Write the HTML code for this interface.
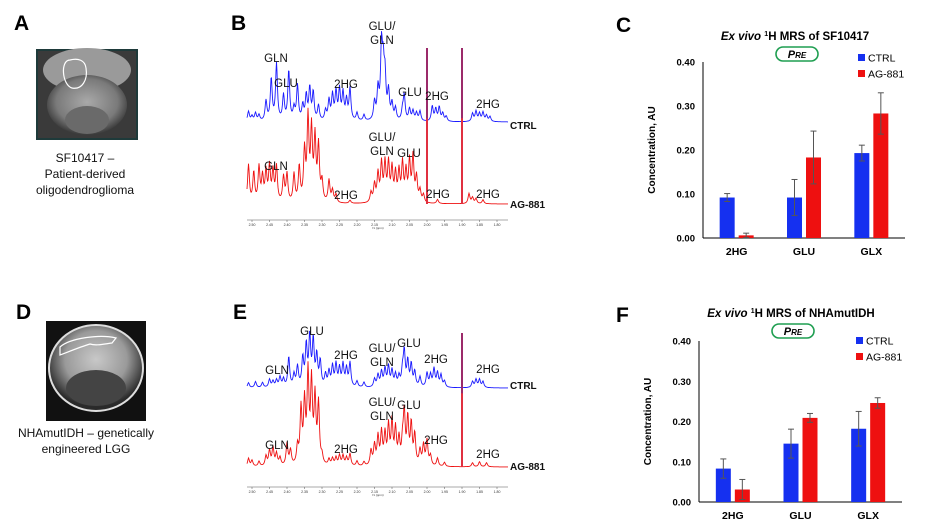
<!DOCTYPE html>
<html><head><meta charset="utf-8"><style>
body{margin:0;background:#fff;}
svg{display:block;font-family:"Liberation Sans",sans-serif;}
</style></head><body>
<svg id="fig" width="926" height="527" viewBox="0 0 926 527">
<g font-weight="bold" font-size="21">
<text x="14" y="30">A</text>
<text x="231" y="30">B</text>
<text x="616" y="32">C</text>
<text x="16" y="319">D</text>
<text x="233" y="319">E</text>
<text x="616" y="322">F</text>
</g>
<defs>
<radialGradient id="brainA" cx="50%" cy="45%" r="55%"><stop offset="0" stop-color="#a9a9a9"/><stop offset="0.7" stop-color="#7a7a7a"/><stop offset="1" stop-color="#3a3a3a"/></radialGradient>
<radialGradient id="brainD" cx="50%" cy="40%" r="55%"><stop offset="0" stop-color="#c8c8c8"/><stop offset="0.6" stop-color="#9a9a9a"/><stop offset="1" stop-color="#2a2a2a"/></radialGradient>
</defs>
<g>
<rect x="36" y="49" width="102" height="91" fill="#1e3a3a"/>
<rect x="38" y="51" width="98" height="87" fill="#3a3a3a"/>
<ellipse cx="87" cy="70" rx="44" ry="22" fill="#9a9a9a"/>
<ellipse cx="87" cy="105" rx="40" ry="30" fill="url(#brainA)"/>
<ellipse cx="87" cy="120" rx="22" ry="14" fill="#6a6a6a"/>
<path d="M70 60 C60 60,62 85,72 88 C82 90,88 80,86 68 C85 60,78 58,70 60Z" fill="none" stroke="#fff" stroke-width="1.2"/>
</g>
<g font-size="12" text-anchor="middle" fill="#111">
<text x="85" y="162">SF10417 –</text><text x="85" y="178">Patient-derived</text><text x="85" y="194">oligodendroglioma</text>
</g>
<g>
<rect x="46" y="321" width="100" height="100" fill="#111"/>
<ellipse cx="96" cy="368" rx="47" ry="43" fill="url(#brainD)" stroke="#ddd" stroke-width="2"/>
<ellipse cx="96" cy="388" rx="30" ry="18" fill="#444"/>
<path d="M60 347 C70 338,100 334,116 338 L112 343 C104 344,96 346,90 344 C80 347,68 352,60 355Z" fill="none" stroke="#fff" stroke-width="1.2"/>
</g>
<g font-size="12" text-anchor="middle" fill="#111">
<text x="86" y="437">NHAmutIDH – genetically</text><text x="86" y="453">engineered  LGG</text>
</g>
<g id="spectra"></g>
<g id="charts"></g>
</svg>
<script>
const specB_ctrl = [[2.51,10],[2.50,5],[2.49,8],[2.48,6],[2.46,20],[2.445,42],[2.43,57],[2.41,25],[2.395,50],[2.38,12],[2.37,35],[2.355,15],[2.345,25],[2.335,32],[2.325,28],[2.31,15],[2.29,10],[2.28,20],[2.27,25],[2.26,28],[2.25,30],[2.24,27],[2.23,20],[2.22,32],[2.20,8],[2.18,6],[2.15,18],[2.14,30],[2.13,70],[2.125,45],[2.12,40],[2.11,28],[2.10,16],[2.09,12],[2.07,10],[2.065,25],[2.05,12],[2.04,10],[2.03,8],[2.02,10],[1.985,15],[1.975,12],[1.965,14],[1.955,8],[1.945,5],[1.87,8],[1.86,10],[1.85,8],[1.84,9],[1.83,6],[1.82,5]];
const specB_ag = [[2.51,38],[2.495,30],[2.48,35],[2.47,25],[2.46,30],[2.45,35],[2.44,30],[2.43,35],[2.41,25],[2.40,28],[2.38,28],[2.365,35],[2.35,50],[2.34,82],[2.33,70],[2.32,62],[2.31,55],[2.30,20],[2.28,22],[2.27,12],[2.26,8],[2.22,3],[2.16,10],[2.15,18],[2.14,28],[2.13,38],[2.12,38],[2.11,38],[2.10,33],[2.09,28],[2.08,30],[2.07,38],[2.06,30],[2.05,40],[2.04,45],[2.03,25],[2.02,12],[2.01,8],[1.97,4],[1.88,10],[1.87,6],[1.86,5],[1.84,4]];
const specE_ctrl = [[2.51,5],[2.49,6],[2.47,5],[2.45,8],[2.44,6],[2.43,7],[2.42,10],[2.41,8],[2.395,30],[2.38,12],[2.37,20],[2.355,28],[2.345,40],[2.335,49],[2.325,45],[2.315,30],[2.305,25],[2.29,12],[2.28,15],[2.27,20],[2.26,22],[2.25,18],[2.24,22],[2.23,18],[2.22,24],[2.20,6],[2.18,5],[2.15,8],[2.14,12],[2.13,15],[2.12,18],[2.11,20],[2.10,16],[2.09,12],[2.08,10],[2.07,15],[2.065,34],[2.055,25],[2.045,22],[2.035,15],[2.02,10],[2.00,14],[1.99,12],[1.98,18],[1.97,14],[1.96,12],[1.95,6],[1.87,6],[1.86,8],[1.85,8],[1.84,6]];
const specE_ag = [[2.51,8],[2.50,6],[2.48,5],[2.46,10],[2.45,15],[2.44,18],[2.43,12],[2.42,8],[2.40,22],[2.39,15],[2.37,18],[2.36,55],[2.35,60],[2.34,89],[2.33,80],[2.32,65],[2.31,60],[2.30,8],[2.28,6],[2.27,7],[2.26,8],[2.25,10],[2.24,10],[2.23,8],[2.22,12],[2.20,5],[2.18,4],[2.16,15],[2.15,20],[2.14,28],[2.13,32],[2.12,30],[2.11,38],[2.10,42],[2.09,35],[2.08,25],[2.07,20],[2.065,50],[2.055,45],[2.045,40],[2.035,30],[2.02,15],[2.01,20],[2.00,25],[1.99,10],[1.97,8],[1.95,4],[1.87,4],[1.85,5],[1.83,4]];
const specTicks = ["2.50","2.45","2.40","2.35","2.30","2.25","2.20","2.15","2.10","2.05","2.00","1.95","1.90","1.85","1.80"];
const spikesB = [2.00,1.90];
const spikesE = [1.90];

const barCategories = ["2HG","GLU","GLX"];
const yTicks = ["0.00","0.10","0.20","0.30","0.40"];
const cCtrl = [0.092,0.092,0.193];
const cCtrlErr = [0.009,0.041,0.018];
const cAg = [0.006,0.183,0.283];
const cAgErr = [0.005,0.060,0.047];
const fCtrl = [0.083,0.145,0.182];
const fCtrlErr = [0.024,0.036,0.043];
const fAg = [0.031,0.209,0.246];
const fAgErr = [0.025,0.011,0.013];

const NS="http://www.w3.org/2000/svg";
function mk(tag,attrs,parent){const e=document.createElementNS(NS,tag);for(const k in attrs)e.setAttribute(k,attrs[k]);if(parent)parent.appendChild(e);return e;}
const sx = ppm => 252 + (2.50-ppm)*350;

function spectrumPath(peaks, base){
  let d="";
  for(let x=247;x<=508;x+=0.5){
    const p = 2.50-(x-252)/350;
    let y=0;
    for(const [c,h] of peaks){const dx=(p-c)*350/1.1; y+=h/(1+dx*dx);}
    d += (d?"L":"M")+x.toFixed(1)+" "+(base-y).toFixed(1);
  }
  return d;
}
const sg=document.getElementById('spectra');
function drawSpectrum(name, peaks, base, color){
  const p=mk('path',{d:spectrumPath(peaks,base),fill:'none',stroke:color,'stroke-width':0.9},sg);
  
  
}
function drawAxis(name, y){
  const g=mk('g',{},sg);
  
  
  mk('line',{x1:247,y1:y,x2:508,y2:y,stroke:'#555','stroke-width':0.6},g);
  specTicks.forEach(t=>{
    const x=sx(parseFloat(t));
    mk('line',{x1:x,y1:y,x2:x,y2:y+2,stroke:'#555','stroke-width':0.5},g);
    const tx=mk('text',{x:x,y:y+6,'font-size':3.5,'text-anchor':'middle',fill:'#333'},g);tx.textContent=t;
  });
  const f=mk('text',{x:378,y:y+9,'font-size':3,'text-anchor':'middle',fill:'#333'},g);f.textContent="f1 (ppm)";
}
function drawSpikes(name, list, top, bottom){
  list.forEach(p=>{
    const x=sx(p);
    const l=mk('rect',{x:x-1,y:top,width:2,height:bottom-top,fill:'#e03040'},sg);
    
    
    mk('rect',{x:x-1,y:top,width:2,height:(bottom-top)*0.45,fill:'#9b2a6a'},sg);
  });
}
drawSpectrum('spectrum-b-ctrl',specB_ctrl,122,'#1a1aff');
drawSpectrum('spectrum-b-ag881',specB_ag,204,'#ee1111');
drawSpikes('spectrum-b-spike',spikesB,48,204);
drawAxis('spectrum-b-axis',220);
drawSpectrum('spectrum-e-ctrl',specE_ctrl,388,'#1a1aff');
drawSpectrum('spectrum-e-ag881',specE_ag,467,'#ee1111');
drawSpikes('spectrum-e-spike',spikesE,333,467);
drawAxis('spectrum-e-axis',487);

function labels(list){
  list.forEach(([t,x,y,b])=>{
    const e=mk('text',{x:x,y:y,'font-size':b?10:11.5,'text-anchor':b?'start':'middle','font-weight':b?'bold':'normal',fill:'#111'},sg);
    e.textContent=t;
    
    
  });
}
labels([["GLN",276,62],["GLU",286,87],["2HG",346,88],["GLU/",382,30],["GLN",382,44],["GLU",410,96],["2HG",437,100],["2HG",488,108],["CTRL",510,129,1],
["GLN",276,170],["2HG",346,199],["GLU/",382,141],["GLN",382,155],["GLU",409,157],["2HG",438,198],["2HG",488,198],["AG-881",510,208,1],
["GLU",312,335],["GLN",277,374],["2HG",346,359],["GLU/",382,352],["GLN",382,366],["GLU",409,347],["2HG",436,363],["2HG",488,373],["CTRL",510,389,1],
["GLN",277,449],["2HG",346,453],["GLU/",382,406],["GLN",382,420],["GLU",409,409],["2HG",436,444],["2HG",488,458],["AG-881",510,470,1]]);

const cg=document.getElementById('charts');
function barChart(prefix, o, ctrl, ctrlErr, ag, agErr, titleTail){
  const g=mk('g',{},cg);
  
  
  const y = v => o.y0 - v/0.40*(o.y0-o.y1);
  const gw=(o.x2-o.x0)/3;
  const t=mk('text',{x:o.x0+92,y:o.ty,'font-size':11.5,'font-weight':'bold','text-anchor':'middle'},g);
  t.innerHTML='<tspan font-style="italic">Ex vivo</tspan> <tspan font-size="7" dy="-4">1</tspan><tspan dy="4">H MRS of '+titleTail+'</tspan>';
  
  
  const pill=mk('rect',{x:o.x0+73,y:o.ty+7,width:42,height:14,rx:7,fill:'#fff',stroke:'#1e9e50','stroke-width':1.6},g);
  
  
  const pt=mk('text',{x:o.x0+94,y:o.ty+18,'font-size':11,'font-weight':'bold','font-style':'italic','text-anchor':'middle'},g);
  pt.innerHTML='P<tspan font-size="8">RE</tspan>';
  mk('line',{x1:o.x0,y1:o.y1,x2:o.x0,y2:o.y0,stroke:'#000','stroke-width':1},g);
  mk('line',{x1:o.x0,y1:o.y0,x2:o.x2,y2:o.y0,stroke:'#000','stroke-width':1},g);
  yTicks.forEach(tk=>{
    const e=mk('text',{x:o.x0-8,y:y(parseFloat(tk))+3.5,'font-size':9.5,'font-weight':'bold','text-anchor':'end'},g);
    e.textContent=tk;
    
    
  });
  const yt=mk('text',{x:0,y:0,'font-size':10,'font-weight':'bold','text-anchor':'middle',transform:`translate(${o.x0-48},${(o.y0+o.y1)/2}) rotate(-90)`},g);
  yt.textContent='Concentration, AU';
  
  
  barCategories.forEach((c,i)=>{
    const cx=o.x0+gw*(i+0.5);
    const pairs=[[ctrl[i],ctrlErr[i],'#1530f0',cx-17,'ctrl'],[ag[i],agErr[i],'#ee1010',cx+2,'ag881']];
    pairs.forEach(([v,er,col,bx,nm])=>{
      const r=mk('rect',{x:bx,y:y(v),width:15,height:o.y0-y(v),fill:col},g);
      
      
      const ex=bx+7.5;
      mk('line',{x1:ex,y1:y(v+er),x2:ex,y2:y(Math.max(v-er,0)),stroke:'#555','stroke-width':1},g);
      mk('line',{x1:ex-3,y1:y(v+er),x2:ex+3,y2:y(v+er),stroke:'#555','stroke-width':1},g);
      mk('line',{x1:ex-3,y1:y(Math.max(v-er,0)),x2:ex+3,y2:y(Math.max(v-er,0)),stroke:'#555','stroke-width':1},g);
    });
    const l=mk('text',{x:cx,y:o.y0+17,'font-size':10.5,'font-weight':'bold','text-anchor':'middle'},g);
    l.textContent=c;
    
    
  });
  [['CTRL','#1530f0',0],['AG-881','#ee1010',16]].forEach(([n,col,dy])=>{
    const lg=mk('g',{},g);
    
    
    mk('rect',{x:o.lx,y:o.ly+dy-4,width:7,height:7,fill:col},lg);
    const e=mk('text',{x:o.lx+10,y:o.ly+dy+3.5,'font-size':10.5},lg);e.textContent=n;
  });
}
barChart('chart-c',{x0:703,x2:905,y0:238,y1:62,ty:40,lx:858,ly:58},cCtrl,cCtrlErr,cAg,cAgErr,'SF10417');
barChart('chart-f',{x0:699,x2:902,y0:502,y1:341,ty:317,lx:856,ly:341},fCtrl,fCtrlErr,fAg,fAgErr,'NHAmutIDH');
</script>
</body></html>
